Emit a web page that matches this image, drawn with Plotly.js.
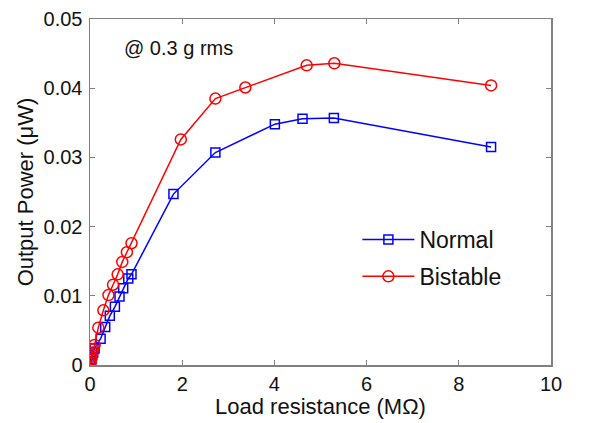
<!DOCTYPE html>
<html><head><meta charset="utf-8">
<script src="https://cdn.plot.ly/plotly-3.0.1.min.js"></script>
<style>html,body{margin:0;padding:0;background:#fff}#c{width:604px;height:423px}</style>
</head><body><div id="c"></div>
<script>
const normalX = [0.005,0.01,0.02,0.03,0.05,0.07,0.1,0.23,0.33,0.43,0.54,0.64,0.72,0.83,0.9,1.81,2.72,4.01,4.61,5.29,8.7];
const normalY = [0.0001,0.0003,0.0006,0.0009,0.0014,0.0018,0.0024,0.0038,0.0055,0.0071,0.0084,0.0099,0.0111,0.0125,0.0131,0.0247,0.0307,0.0348,0.0356,0.0357,0.0315];
const bistableX = [0.005,0.01,0.02,0.03,0.05,0.07,0.1,0.18,0.29,0.4,0.5,0.6,0.7,0.8,0.9,1.97,2.72,3.37,4.7,5.3,8.7];
const bistableY = [0.0002,0.0004,0.0008,0.0012,0.0018,0.0023,0.0029,0.0054,0.0079,0.0101,0.0116,0.0131,0.0149,0.0163,0.0176,0.0326,0.0385,0.0401,0.0433,0.0436,0.0404];
const xTicks = [0,2,4,6,8,10];
const yTicks = [0,0.01,0.02,0.03,0.04,0.05];
const yTickText = ['0','0.01','0.02','0.03','0.04','0.05'];

const traces = [
  {x: normalX, y: normalY, name: 'Normal', legendgroup: 'n', mode: 'lines+markers', type: 'scatter',
   line: {color: '#0000ff', width: 1.5},
   marker: {symbol: 'square-open', size: 9, color: '#0000ff', line: {width: 1.5}}},
  {x: bistableX, y: bistableY, name: 'Bistable', legendgroup: 'b', mode: 'lines+markers', type: 'scatter',
   line: {color: '#ff0000', width: 1.5},
   marker: {symbol: 'circle-open', size: 11, color: '#ff0000', line: {width: 1.5}}}
];
const axisCommon = {showgrid: false, zeroline: false, showline: true, mirror: 'ticks',
  linecolor: '#808080', linewidth: 1.5, ticks: 'inside', ticklen: 5, tickcolor: '#808080',
  tickfont: {family: 'Liberation Sans, Arial', size: 20, color: '#111'}};
const layout = {
  width: 604, height: 423, margin: {l: 90, r: 53, t: 19, b: 58},
  paper_bgcolor: '#fff', plot_bgcolor: '#fff', showlegend: true,
  font: {family: 'Liberation Sans, Arial', color: '#111'},
  xaxis: Object.assign({}, axisCommon, {range: [0, 10], tickvals: xTicks,
    title: {text: 'Load resistance (MΩ)', font: {size: 22}, standoff: 4}}),
  yaxis: Object.assign({}, axisCommon, {range: [0, 0.05], tickvals: yTicks, ticktext: yTickText,
    ticklabelstandoff: 2,
    title: {text: 'Output Power (μW)', font: {size: 22}, standoff: 4}}),
  legend: {x: 0.58, y: 0.425, xanchor: 'left', yanchor: 'top', bgcolor: 'rgba(0,0,0,0)',
    font: {size: 23, family: 'Liberation Sans, Arial', color: '#111'}, itemwidth: 52, tracegroupgap: 4},
  annotations: [{x: 0.07, y: 0.916, xref: 'paper', yref: 'paper', xanchor: 'left', yanchor: 'middle',
    text: '@ 0.3 g rms', showarrow: false, font: {size: 20, color: '#111'}}]
};
Plotly.newPlot('c', traces, layout, {displayModeBar: false, staticPlot: true});
</script></body></html>
